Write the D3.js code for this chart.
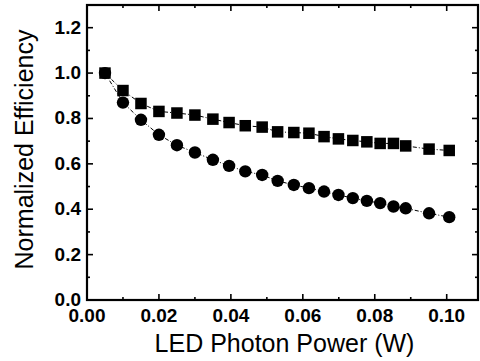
<!DOCTYPE html>
<html>
<head>
<meta charset="utf-8">
<script src="https://cdn.jsdelivr.net/npm/d3@7"></script>
<style>
  html, body { margin: 0; padding: 0; background: #fff; }
  svg { display: block; }
</style>
</head>
<body>
<div id="chart"></div>
<script>
// LED photon power (W)
const power = [0.005, 0.010, 0.015, 0.020, 0.025, 0.030, 0.035, 0.0395, 0.044, 0.0487, 0.053,
  0.0575, 0.0617, 0.0659, 0.0699, 0.0739, 0.0778, 0.0815, 0.0852, 0.0886, 0.0951, 0.1007];
// normalized efficiency, square series
const squareEff = [1.0, 0.923, 0.866, 0.831, 0.824, 0.815, 0.797, 0.782, 0.768, 0.762, 0.741,
  0.738, 0.735, 0.720, 0.710, 0.703, 0.697, 0.690, 0.690, 0.679, 0.665, 0.659];
// normalized efficiency, circle series
const circleEff = [1.0, 0.870, 0.794, 0.728, 0.682, 0.650, 0.618, 0.591, 0.567, 0.551, 0.525,
  0.507, 0.493, 0.478, 0.463, 0.449, 0.437, 0.427, 0.412, 0.404, 0.382, 0.365];

const xTicks = [0, 0.02, 0.04, 0.06, 0.08, 0.10];
const yTicks = [0, 0.2, 0.4, 0.6, 0.8, 1.0, 1.2];
const xLabel = 'LED Photon Power (W)';
const yLabel = 'Normalized Efficiency';

const width = 480, height = 361;
const margin = { top: 5, right: 2, bottom: 61, left: 87 };

const svg = d3.select('#chart').append('svg')
  .attr('width', width)
  .attr('height', height);

const x = d3.scaleLinear()
  .domain([0, 0.1087])
  .range([margin.left, width - margin.right]);

const y = d3.scaleLinear()
  .domain([0, 1.3])
  .range([height - margin.bottom, margin.top]);

const font = '"Liberation Sans", Arial, Helvetica, sans-serif';
const x0 = margin.left, x1 = width - margin.right;
const y0 = height - margin.bottom, y1 = margin.top;

const xMinor = d3.range(0.01, 0.105, 0.02);
const yMinor = d3.range(0.1, 1.3, 0.2);

// ticks, pointing inward on all four sides
function drawTicks(g, vals, len) {
  vals.forEach(v => {
    g.append('line').attr('x1', x(v)).attr('x2', x(v)).attr('y1', y0).attr('y2', y0 - len);
    g.append('line').attr('x1', x(v)).attr('x2', x(v)).attr('y1', y1).attr('y2', y1 + len);
  });
}
const tickG = svg.append('g').attr('stroke', '#000').attr('stroke-width', 1.6);
drawTicks(tickG, xTicks, 6);
drawTicks(tickG, xMinor, 3);
[[yTicks, 6], [yMinor, 3]].forEach(([vals, len]) => {
  vals.forEach(v => {
    tickG.append('line').attr('x1', x0).attr('x2', x0 + len).attr('y1', y(v)).attr('y2', y(v));
    tickG.append('line').attr('x1', x1).attr('x2', x1 - len).attr('y1', y(v)).attr('y2', y(v));
  });
});

// frame
svg.append('rect')
  .attr('x', x0).attr('y', y1)
  .attr('width', x1 - x0).attr('height', y0 - y1)
  .attr('fill', 'none')
  .attr('stroke', '#000')
  .attr('stroke-width', 2.2);

// tick labels
svg.append('g').selectAll('text')
  .data(xTicks)
  .enter().append('text')
  .attr('x', d => x(d))
  .attr('y', y0 + 22)
  .attr('text-anchor', 'middle')
  .attr('font-family', font)
  .attr('font-weight', 'bold')
  .attr('font-size', 19)
  .text(d => d3.format('.2f')(d));

svg.append('g').selectAll('text')
  .data(yTicks)
  .enter().append('text')
  .attr('x', x0 - 6)
  .attr('y', d => y(d) + 6)
  .attr('text-anchor', 'end')
  .attr('font-family', font)
  .attr('font-weight', 'bold')
  .attr('font-size', 19)
  .text(d => d3.format('.1f')(d));

// axis titles
svg.append('text')
  .attr('x', (x0 + x1) / 2 + 2)
  .attr('y', 352)
  .attr('text-anchor', 'middle')
  .attr('font-family', font)
  .attr('font-size', 25)
  .text(xLabel);

svg.append('text')
  .attr('transform', `translate(33,${(y0 + y1) / 2 - 3}) rotate(-90)`)
  .attr('text-anchor', 'middle')
  .attr('font-family', font)
  .attr('font-size', 25)
  .text(yLabel);

// connecting dash-dot lines
const line = vals => d3.line()
  .x((d, i) => x(power[i]))
  .y(d => y(d))(vals);

[squareEff, circleEff].forEach(vals => {
  svg.append('path')
    .attr('d', line(vals))
    .attr('fill', 'none')
    .attr('stroke', '#000')
    .attr('stroke-width', 1)
    .attr('stroke-dasharray', '4,2,1,2');
});

// markers
const sq = 11.5;
svg.append('g').selectAll('rect')
  .data(squareEff)
  .enter().append('rect')
  .attr('x', (d, i) => x(power[i]) - sq / 2)
  .attr('y', d => y(d) - sq / 2)
  .attr('width', sq)
  .attr('height', sq)
  .attr('fill', '#000');

svg.append('g').selectAll('circle')
  .data(circleEff)
  .enter().append('circle')
  .attr('cx', (d, i) => x(power[i]))
  .attr('cy', d => y(d))
  .attr('r', 6.2)
  .attr('fill', '#000');
</script>
</body>
</html>
